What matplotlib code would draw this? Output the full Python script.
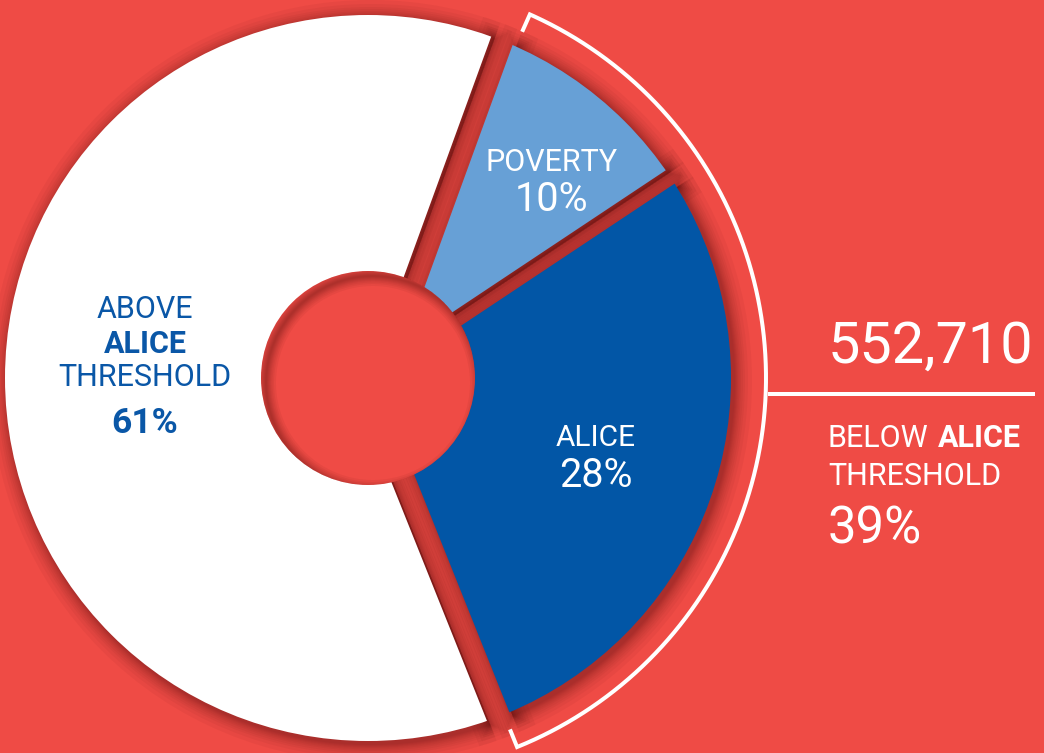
import numpy as np
import matplotlib
matplotlib.use("Agg")
import matplotlib.pyplot as plt
from matplotlib.patches import Wedge, Circle
from matplotlib.lines import Line2D

plt.rcParams['font.family'] = ['Roboto', 'DejaVu Sans']

# data
segments = ["ABOVE ALICE THRESHOLD", "ALICE", "POVERTY"]
shares = [61, 28, 10]
below_count = "552,710"
below_share = 39

BG = "#EF4B45"
SHADOW = "#3a0505"
TEXT_BLUE = "#0A57A7"
colors = ["#FFFFFF", "#0256A6", "#67A0D6"]
# half gap (px) cut from the start / end edge of every slice
gaps = [(1, 17), (7, 8), (8, 22)]

W, H = 1044, 753
PX = 72 / 100          # points per pixel
C = np.array([368.0, 375.0])
R = 363
R_HOLE = 107
START = 70

fig = plt.figure(figsize=(W / 100, H / 100), dpi=100)
fig.patch.set_facecolor(BG)
ax = fig.add_axes([0, 0, 1, 1])
ax.set_xlim(0, W)
ax.set_ylim(0, H)
ax.axis('off')

fr = np.array(shares, dtype=float)
edges = START + np.concatenate([[0], np.cumsum(fr / fr.sum() * 360)])


def apex(a1, a2, g1, g2):
    t1, t2 = np.radians(a1), np.radians(a2)
    m = np.array([[-np.sin(t1), np.cos(t1)], [np.sin(t2), -np.cos(t2)]])
    return C + np.linalg.solve(m, [g1, g2])


off = np.array([3.0, -3.0])
slices = []
for i in range(len(shares)):
    a1, a2 = edges[i], edges[i + 1]
    p = apex(a1, a2, *gaps[i])
    slices.append((p, a1, a2))

# soft drop shadows
for p, a1, a2 in slices:
    for d in [18, 14, 11, 9, 7, 5.5, 4, 3, 2, 1]:
        w = Wedge(p + off, 1.6 * R, a1, a2, fc=SHADOW, ec=SHADOW,
                  lw=2 * d * PX, alpha=0.045, joinstyle='round', zorder=1)
        ax.add_patch(w)
        w.set_clip_path(Circle(C + off, R + d, transform=ax.transData))

# slices
for (p, a1, a2), col in zip(slices, colors):
    w = Wedge(p, 1.6 * R, a1, a2, fc=col, ec='none', zorder=2)
    ax.add_patch(w)
    w.set_clip_path(Circle(C, R, transform=ax.transData))

# hole with inner shadow
ax.add_patch(Circle(C, R_HOLE, fc=BG, ec='none', zorder=5))
hole_clip = Circle(C, R_HOLE, transform=ax.transData)
for d in [10, 8, 6.5, 5, 4, 3, 2, 1]:
    ring = Circle(C + np.array([5.0, -5.0]), R_HOLE, fc='none', ec=SHADOW,
                  lw=2 * d * PX, alpha=0.05, zorder=6)
    ax.add_patch(ring)
    ring.set_clip_path(hole_clip)

# bracket around the below-threshold slices
rb, tick = 398, 17
th = np.radians(np.linspace(-68, 66, 200))
bx = np.concatenate([[C[0] + (rb - tick) * np.cos(th[0])], C[0] + rb * np.cos(th),
                     [C[0] + (rb - tick) * np.cos(th[-1])]])
by = np.concatenate([[C[1] + (rb - tick) * np.sin(th[0])], C[1] + rb * np.sin(th),
                     [C[1] + (rb - tick) * np.sin(th[-1])]])
ax.add_line(Line2D(bx, by, color='white', lw=4 * PX, solid_joinstyle='miter', zorder=7))
ax.add_line(Line2D([770, 1033], [H - 394, H - 394], color='white', lw=4 * PX, zorder=7))


# labels
def txt(x, y, s, size, color, weight='normal', ha='center'):
    return ax.text(x, H - y, s, fontsize=size, color=color, fontweight=weight,
                   ha=ha, va='baseline', zorder=8)


txt(145, 318, "ABOVE", 22, TEXT_BLUE)
txt(145, 353, "ALICE", 22, TEXT_BLUE, 'bold')
txt(145, 386, "THRESHOLD", 22, TEXT_BLUE)
txt(145, 433, f"{shares[0]}%", 25.5, TEXT_BLUE, 'bold')

txt(552, 171, segments[2], 22, 'white')
txt(552, 211, f"{shares[2]}%", 28.5, 'white')

txt(596, 446, segments[1], 21.5, 'white')
txt(596, 487, f"{shares[1]}%", 28.5, 'white')

txt(828, 363, below_count, 41.5, 'white', ha='left')
below = txt(828, 447, "BELOW", 22, 'white', ha='left')
ax.annotate("ALICE", xy=(1, 0), xycoords=below, xytext=(7, 0),
            textcoords='offset points', fontsize=22, color='white',
            fontweight='bold', ha='left', va='bottom', zorder=8)
txt(828, 485, "THRESHOLD", 22, 'white', ha='left')
txt(828, 543, f"{below_share}%", 36.5, 'white', ha='left')

fig.savefig("out.png", dpi=100, facecolor=BG)
